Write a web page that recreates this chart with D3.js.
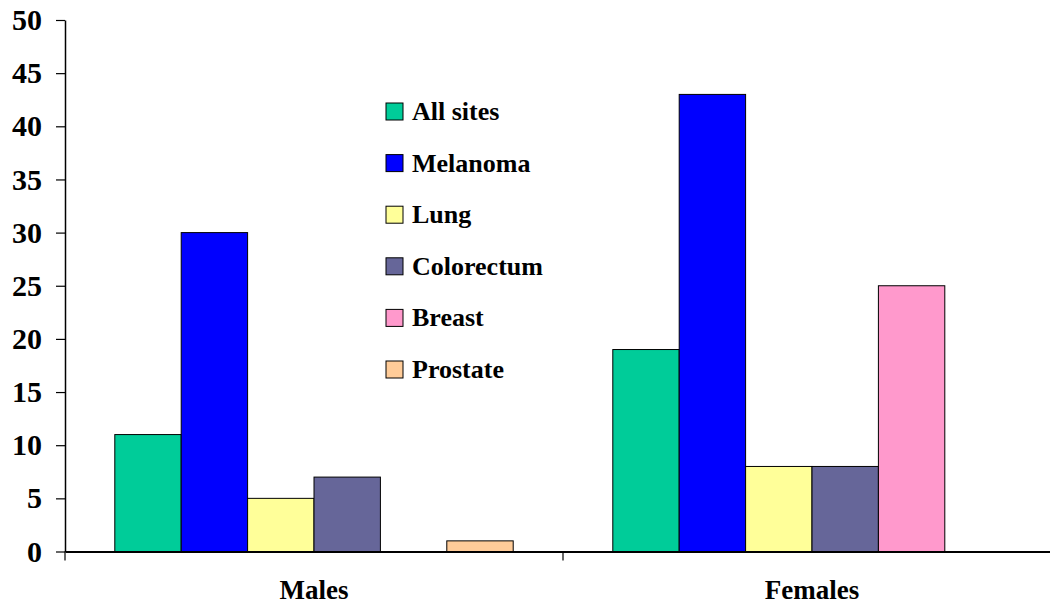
<!DOCTYPE html>
<html lang="en">
<head>
  <meta charset="UTF-8">
  <title>Cancer sites by sex</title>
  <script src="https://d3js.org/d3.v7.min.js"></script>
  <style>
    body { margin: 0; background: #fff; }
    text { font-family: "Liberation Serif", "Times New Roman", serif; font-weight: bold; fill: #000; }
  </style>
</head>
<body>
  <div id="chart"></div>
  <script>
    // data
    const groups = ["Males", "Females"];
    const sites = ["All sites", "Melanoma", "Lung", "Colorectum", "Breast", "Prostate"];
    const colors = ["#00CC99", "#0000FF", "#FFFF99", "#666699", "#FF99CC", "#FFCC99"];
    const males = [11, 30, 5, 7, 0, 1];
    const females = [19, 43, 8, 8, 25, 0];
    const yTicks = [0, 5, 10, 15, 20, 25, 30, 35, 40, 45, 50];

    const W = 1050, H = 606;
    const margin = { top: 20, right: -11, bottom: 54.5, left: 65 };
    const width = W - margin.left - margin.right;
    const height = H - margin.top - margin.bottom;

    const svg = d3.select("#chart").append("svg")
      .attr("width", W).attr("height", H);
    const g = svg.append("g")
      .attr("transform", `translate(${margin.left},${margin.top})`);

    const rows = groups.map((grp, i) => ({
      group: grp,
      values: sites.map((s, j) => ({ site: s, value: (i === 0 ? males : females)[j], color: colors[j] }))
    }));

    const x0 = d3.scaleBand().domain(groups).range([0, width]).paddingInner(0).paddingOuter(0);
    const x1 = d3.scaleBand().domain(sites).range([0, x0.bandwidth()]).paddingOuter(0.75).paddingInner(0);
    const y = d3.scaleLinear().domain([0, 50]).range([height, 0]);

    // bars
    const grp = g.selectAll("g.grp").data(rows).join("g")
      .attr("class", "grp")
      .attr("transform", d => `translate(${x0(d.group)},0)`);
    grp.selectAll("rect")
      .data(d => d.values.filter(v => v.value > 0))
      .join("rect")
      .attr("x", d => x1(d.site))
      .attr("y", d => y(d.value))
      .attr("width", x1.bandwidth())
      .attr("height", d => y(0) - y(d.value))
      .attr("fill", d => d.color)
      .attr("stroke", "#000")
      .attr("stroke-width", 1);

    // y axis
    const yAxis = g.append("g")
      .call(d3.axisLeft(y).tickValues(yTicks).tickSize(9).tickPadding(14).tickSizeOuter(0));
    yAxis.select(".domain").attr("stroke", "#000").attr("stroke-width", 1.5);
    yAxis.selectAll(".tick line").attr("stroke", "#000").attr("stroke-width", 1.2);
    yAxis.selectAll("text").style("font-size", "30px").attr("fill", "#000");

    // x axis
    const xAxis = g.append("g")
      .attr("transform", `translate(0,${height})`)
      .call(d3.axisBottom(x0).tickSize(0).tickPadding(28).tickSizeOuter(0));
    xAxis.select(".domain").attr("stroke", "#000").attr("stroke-width", 2);
    xAxis.selectAll("text").style("font-size", "27px").attr("fill", "#000");
    // category separators
    xAxis.selectAll("line.sep")
      .data([0, x0.bandwidth()])
      .join("line")
      .attr("class", "sep")
      .attr("x1", d => d).attr("x2", d => d)
      .attr("y1", 0).attr("y2", 9)
      .attr("stroke", "#000").attr("stroke-width", 1.2);

    // legend
    const legend = svg.append("g").attr("transform", "translate(386,103)");
    const item = legend.selectAll("g").data(sites).join("g")
      .attr("transform", (d, i) => `translate(0,${i * 51.6})`);
    item.append("rect")
      .attr("width", 17).attr("height", 17)
      .attr("fill", (d, i) => colors[i])
      .attr("stroke", "#000").attr("stroke-width", 1);
    item.append("text")
      .attr("x", 26).attr("y", 17)
      .style("font-size", "26px")
      .text(d => d);
  </script>
</body>
</html>
